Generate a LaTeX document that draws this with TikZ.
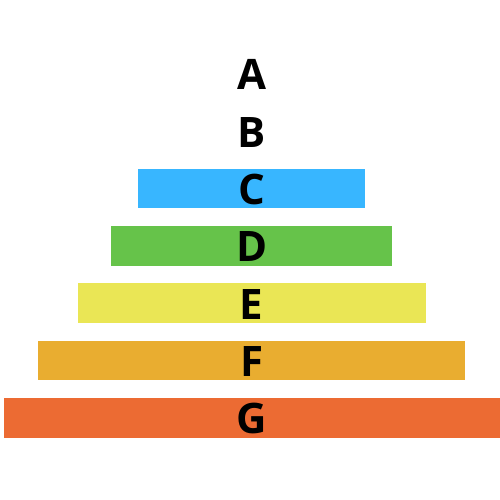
\documentclass[tikz,border=0pt]{standalone}
\usepackage{fontspec}
\setmainfont{Open Sans}
\definecolor{cC}{HTML}{38B6FF}
\definecolor{cD}{HTML}{66C34A}
\definecolor{cE}{HTML}{EAE655}
\definecolor{cF}{HTML}{E9AD30}
\definecolor{cG}{HTML}{EC6B33}
\tikzset{lab/.style={anchor=base,inner sep=0pt,font=\fontsize{42}{42}\selectfont\bfseries}}
\begin{document}
\begin{tikzpicture}[x=1pt,y=1pt]
\useasboundingbox (0,0) rectangle (500,500);
\fill[cC] (138,331) rectangle (365,291.5);
\fill[cD] (111,274) rectangle (391.5,234);
\fill[cE] (78,216.5) rectangle (426,177);
\fill[cF] (37.7,159) rectangle (465.3,119.5);
\fill[cG] (3.7,101.7) rectangle (500,61.7);
\node[lab] (a) at (251.7,410) {A};
\node[lab] (b) at (251.7,352.5) {B};
\node[lab] (c) at (251.7,295.5) {C};
\node[lab] (d) at (251.7,238) {D};
\node[lab] (e) at (251.7,180.5) {E};
\node[lab] (f) at (251.7,123) {F};
\node[lab] (g) at (251.7,66) {G};
\end{tikzpicture}
\end{document}
